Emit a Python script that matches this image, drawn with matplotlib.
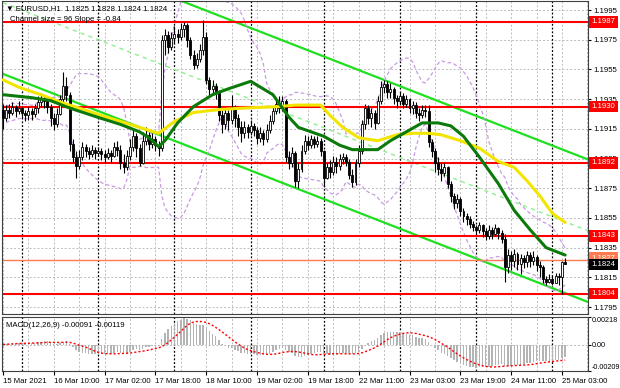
import matplotlib
matplotlib.use("Agg")
import matplotlib.pyplot as plt
import matplotlib.transforms as mtransforms
import numpy as np
import pandas as pd

plt.rcParams['font.family'] = ['Liberation Sans', 'DejaVu Sans']

# hourly EURUSD bars, index 0 = 15 Mar 18:00
first_open = 1.1928
closes = [1.1922, 1.1928, 1.1926, 1.1930, 1.1927, 1.1929, 1.1926, 1.1924, 1.1927, 1.1925,
          1.1929, 1.1933, 1.1936, 1.1934, 1.1930, 1.1922, 1.1918, 1.1925, 1.1935, 1.1944,
          1.1938, 1.1905, 1.1896, 1.1890, 1.1896, 1.1903, 1.1900, 1.1898, 1.1901, 1.1899,
          1.1900, 1.1898, 1.1896, 1.1899, 1.1897, 1.1903, 1.1901, 1.1892, 1.1889, 1.1897,
          1.1903, 1.1910, 1.1902, 1.1892, 1.1907, 1.1911, 1.1905, 1.1908, 1.1904, 1.1902,
          1.1975, 1.1978, 1.1970, 1.1976, 1.1979, 1.1977, 1.1982, 1.1985, 1.1975, 1.1965,
          1.1958, 1.1962, 1.1968, 1.1977, 1.1948, 1.1942, 1.1944, 1.1939, 1.1924, 1.1918,
          1.1926, 1.1921, 1.1929, 1.1922, 1.1916, 1.1912, 1.1916, 1.1913, 1.1917, 1.1914,
          1.1909, 1.1912, 1.1908, 1.1914, 1.1920, 1.1927, 1.1932, 1.1929, 1.1934, 1.1896,
          1.1892, 1.1899, 1.1880, 1.1888, 1.1900, 1.1907, 1.1904, 1.1908, 1.1905, 1.1907,
          1.1900, 1.1882, 1.1889, 1.1886, 1.1893, 1.1890, 1.1895, 1.1896, 1.1893, 1.1884,
          1.1879, 1.1892, 1.1900, 1.1918, 1.1929, 1.1922, 1.1926, 1.1919, 1.1934, 1.1943,
          1.1945, 1.1940, 1.1942, 1.1936, 1.1934, 1.1937, 1.1932, 1.1935, 1.1929, 1.1931,
          1.1926, 1.1924, 1.1928, 1.1927, 1.1906, 1.1900, 1.1892, 1.1888, 1.1885, 1.1889,
          1.1878, 1.1870, 1.1865, 1.1868, 1.1860, 1.1856, 1.1854, 1.1851, 1.1849, 1.1847,
          1.1850, 1.1846, 1.1843, 1.1847, 1.1844, 1.1848, 1.1845, 1.1841, 1.1822, 1.1830,
          1.1826, 1.1831, 1.1824, 1.1828, 1.1825, 1.1830, 1.1826, 1.1829, 1.1823, 1.1822,
          1.1814, 1.1812, 1.1814, 1.1811, 1.1816, 1.1815, 1.1825, 1.1824]
highs = [1.1932, 1.1931, 1.1932, 1.1933, 1.1931, 1.1934, 1.1930, 1.1928, 1.1930, 1.1929,
         1.1932, 1.1937, 1.1939, 1.1938, 1.1936, 1.1932, 1.1926, 1.1929, 1.1938, 1.1953,
         1.1950, 1.1940, 1.1908, 1.1900, 1.1901, 1.1906, 1.1905, 1.1903, 1.1904, 1.1903,
         1.1903, 1.1902, 1.1901, 1.1902, 1.1901, 1.1906, 1.1907, 1.1904, 1.1898, 1.1901,
         1.1908, 1.1914, 1.1912, 1.1905, 1.1913, 1.1916, 1.1913, 1.1912, 1.1910, 1.1907,
         1.1978, 1.1982, 1.1981, 1.1980, 1.1984, 1.1982, 1.1986, 1.1987, 1.1986, 1.1977,
         1.1968, 1.1966, 1.1972, 1.1988, 1.1980, 1.1950, 1.1948, 1.1946, 1.1941, 1.1928,
         1.1930, 1.1928, 1.1938, 1.1931, 1.1925, 1.1920, 1.1920, 1.1918, 1.1921, 1.1919,
         1.1916, 1.1916, 1.1914, 1.1918, 1.1924, 1.1930, 1.1935, 1.1937, 1.1937, 1.1935,
         1.1900, 1.1903, 1.1900, 1.1892, 1.1904, 1.1911, 1.1910, 1.1911, 1.1910, 1.1910,
         1.1909, 1.1901, 1.1892, 1.1894, 1.1897, 1.1896, 1.1898, 1.1899, 1.1898, 1.1895,
         1.1888, 1.1895, 1.1904, 1.1921, 1.1932, 1.1931, 1.1929, 1.1928, 1.1937, 1.1947,
         1.1948, 1.1947, 1.1946, 1.1943, 1.1938, 1.1940, 1.1939, 1.1938, 1.1936, 1.1934,
         1.1933, 1.1929, 1.1931, 1.1931, 1.1931, 1.1908, 1.1902, 1.1896, 1.1892, 1.1892,
         1.1890, 1.1880, 1.1872, 1.1871, 1.1869, 1.1862, 1.1858, 1.1856, 1.1853, 1.1850,
         1.1852, 1.1851, 1.1848, 1.1850, 1.1849, 1.1851, 1.1849, 1.1847, 1.1844, 1.1834,
         1.1833, 1.1834, 1.1832, 1.1831, 1.1830, 1.1833, 1.1832, 1.1833, 1.1830, 1.1826,
         1.1823, 1.1816, 1.1817, 1.1816, 1.1818, 1.1818, 1.1826, 1.1828]
lows = [1.1915, 1.1920, 1.1922, 1.1924, 1.1923, 1.1925, 1.1922, 1.1920, 1.1921, 1.1921,
        1.1923, 1.1926, 1.1930, 1.1929, 1.1926, 1.1917, 1.1914, 1.1916, 1.1924, 1.1933,
        1.1934, 1.1900, 1.1893, 1.1882, 1.1888, 1.1894, 1.1896, 1.1895, 1.1896, 1.1895,
        1.1897, 1.1894, 1.1892, 1.1895, 1.1893, 1.1896, 1.1897, 1.1888, 1.1885, 1.1887,
        1.1894, 1.1900, 1.1896, 1.1890, 1.1891, 1.1904, 1.1901, 1.1902, 1.1900, 1.1897,
        1.1900, 1.1965, 1.1966, 1.1968, 1.1972, 1.1973, 1.1975, 1.1977, 1.1970, 1.1962,
        1.1955, 1.1956, 1.1960, 1.1965, 1.1945, 1.1938, 1.1938, 1.1935, 1.1920, 1.1912,
        1.1915, 1.1914, 1.1918, 1.1916, 1.1910, 1.1906, 1.1909, 1.1909, 1.1911, 1.1910,
        1.1905, 1.1906, 1.1904, 1.1906, 1.1912, 1.1918, 1.1925, 1.1926, 1.1927, 1.1893,
        1.1888, 1.1889, 1.1876, 1.1875, 1.1886, 1.1898, 1.1901, 1.1902, 1.1902, 1.1903,
        1.1897, 1.1876, 1.1881, 1.1882, 1.1884, 1.1885, 1.1887, 1.1891, 1.1890, 1.1881,
        1.1876, 1.1877, 1.1889, 1.1898, 1.1915, 1.1918, 1.1916, 1.1915, 1.1918, 1.1932,
        1.1939, 1.1936, 1.1936, 1.1932, 1.1929, 1.1931, 1.1929, 1.1930, 1.1926, 1.1925,
        1.1922, 1.1920, 1.1922, 1.1923, 1.1903, 1.1896, 1.1886, 1.1884, 1.1880, 1.1883,
        1.1875, 1.1866, 1.1861, 1.1862, 1.1856, 1.1852, 1.1850, 1.1848, 1.1846, 1.1844,
        1.1845, 1.1842, 1.1840, 1.1841, 1.1841, 1.1843, 1.1841, 1.1838, 1.1812, 1.1818,
        1.1820, 1.1822, 1.1820, 1.1817, 1.1821, 1.1822, 1.1822, 1.1823, 1.1819, 1.1815,
        1.1811, 1.1810, 1.1811, 1.1810, 1.1811, 1.1810, 1.1804, 1.1824]

# moving averages (bar index, price)
ma_green_bars = [0, 9, 15, 21, 31, 37, 43, 46, 49, 51, 55, 60, 66, 71, 78, 85, 90, 93, 97, 101,
                 106, 110, 118, 122, 127, 132, 137, 141, 145, 150, 156, 161, 166, 171, 177]
ma_green = [1.1938, 1.1936, 1.1934, 1.1929, 1.1922, 1.1918, 1.1913, 1.1909, 1.1903, 1.1907,
            1.1919, 1.1930, 1.1938, 1.1942, 1.1947, 1.1938, 1.1923, 1.1916, 1.1913, 1.1910,
            1.1904, 1.1901, 1.1901, 1.1907, 1.1913, 1.1919, 1.1919, 1.1917, 1.1910, 1.1896,
            1.1878, 1.1860, 1.1847, 1.1835, 1.1830]
ma_yellow_bars = [0, 5, 12, 18, 24, 31, 37, 43, 49, 54, 60, 68, 76, 87, 92, 100, 103, 107, 112,
                  118, 124, 129, 134, 138, 144, 150, 156, 161, 165, 169, 173, 177]
ma_yellow = [1.1948, 1.1943, 1.1938, 1.1933, 1.1929, 1.1924, 1.1920, 1.1916, 1.1912, 1.1920,
             1.1926, 1.1928, 1.1929, 1.1930, 1.1931, 1.1931, 1.1924, 1.1916, 1.1909, 1.1907,
             1.1911, 1.1912, 1.1912, 1.1911, 1.1907, 1.1902, 1.1893, 1.1889, 1.1880, 1.1870,
             1.1858, 1.1852]

# regression channel: lower line end points, width 96 pips
chan_bars = [0, 185]
chan_lower = [1.1952, 1.17977]
chan_width = 0.0096

levels = [1.1987, 1.1930, 1.1892, 1.1843, 1.1804]
ask_price = 1.1827
bid_price = 1.1824

price_ticks = [1.1795, 1.1815, 1.1835, 1.1855, 1.1875, 1.1895, 1.1915, 1.1935, 1.1955, 1.1975, 1.1995]
macd_top, macd_bottom = 0.00218, -0.00209
time_bars = [0, 16, 32, 48, 64, 80, 96, 112, 128, 144, 160, 176]
time_labels = ['15 Mar 2021', '16 Mar 10:00', '17 Mar 02:00', '17 Mar 18:00', '18 Mar 10:00',
               '19 Mar 02:00', '19 Mar 18:00', '22 Mar 11:00', '23 Mar 03:00', '23 Mar 19:00',
               '24 Mar 11:00', '25 Mar 03:00']
day_bars = [6, 30, 54, 78, 101, 125, 149, 173]

c = pd.Series(closes)
o = np.array([first_open] + closes[:-1])
cl = np.array(closes)
idx = np.arange(len(closes))

# bollinger 20,2
mid = c.rolling(20, min_periods=2).mean()
sd = c.rolling(20, min_periods=2).std(ddof=0)
bb_up = mid + 2 * sd
bb_dn = mid - 2 * sd

# MACD 12,26,9
macd = c.ewm(span=12, adjust=False).mean() - c.ewm(span=26, adjust=False).mean()
signal = macd.rolling(9, min_periods=1).mean()

FS = 5.6
fig = plt.figure(figsize=(6.2, 3.88), dpi=100)
ax = fig.add_axes([2 / 620, 1 - 314 / 388, 586 / 620, 313 / 388])
ax2 = fig.add_axes([2 / 620, 1 - 371 / 388, 586 / 620, 54 / 388])

xlim = (-0.3, 184.2)
for a in (ax, ax2):
    a.set_xlim(*xlim)
    for s in a.spines.values():
        s.set_color('#404040')
        s.set_linewidth(0.8)
    for b in time_bars:
        a.axvline(b, color='#bcbcbc', lw=0.7, ls=(0, (2, 2)), zorder=0)
        a.axvline(b + 8, color='#bcbcbc', lw=0.7, ls=(0, (2, 2)), zorder=0)
    for b in day_bars:
        a.axvline(b, color='black', lw=0.9, ls=(0, (1.5, 1.5)), zorder=0.5)

ax.set_ylim(1.17903, 1.20011)
for p in price_ticks:
    ax.axhline(p, color='#bcbcbc', lw=0.7, ls=(0, (2, 2)), zorder=0)

# channel
chan_upper = [v + chan_width for v in chan_lower]
chan_mid = [v + chan_width / 2 for v in chan_lower]
ax.plot(chan_bars, chan_lower, color='#1fe01f', lw=1.6, zorder=1)
ax.plot(chan_bars, chan_upper, color='#1fe01f', lw=1.6, zorder=1)
ax.plot(chan_bars, chan_mid, color='#8cf08c', lw=1, ls=(0, (3, 3)), zorder=1)

# bollinger
ax.plot(idx, bb_up, color='#c89be0', lw=0.9, ls=(0, (3, 2)), zorder=1)
ax.plot(idx, bb_dn, color='#c89be0', lw=0.9, ls=(0, (3, 2)), zorder=1)

# levels
for lv in levels:
    ax.axhline(lv, color='#ff0000', lw=1.5, zorder=2)
ax.axhline(ask_price, color='#ff7a50', lw=1, zorder=2)

# candles
ax.vlines(idx, lows, highs, color='black', lw=0.8, zorder=3)
up = cl >= o
ax.bar(idx[up], (cl - o)[up], bottom=o[up], width=0.62, color='white', edgecolor='black', lw=0.6, zorder=4)
ax.bar(idx[~up], (o - cl)[~up], bottom=cl[~up], width=0.62, color='black', edgecolor='black', lw=0.6, zorder=4)

# moving averages
ax.plot(ma_yellow_bars, ma_yellow, color='#f2e600', lw=2.2, zorder=5, solid_capstyle='round')
ax.plot(ma_green_bars, ma_green, color='#0b7a0b', lw=2.2, zorder=5, solid_capstyle='round')

ax.yaxis.tick_right()
ax.set_yticks(price_ticks)
ax.set_yticklabels([f'{p:.4f}' for p in price_ticks])
ax.tick_params(axis='y', labelsize=FS, length=2.5, pad=1.5)
ax.set_xticks([])

trans = mtransforms.blended_transform_factory(ax.transAxes, ax.transData)
box = dict(boxstyle='square,pad=0.3', ec='none')
for lv in levels:
    ax.text(1.006, lv, f'{lv:.4f}', transform=trans, color='white', fontsize=FS, va='center',
            ha='left', bbox=dict(box, fc='#ff0000'), clip_on=False, zorder=6)
ax.text(1.006, ask_price + 0.00008, f'{ask_price:.4f}', transform=trans, color='white', fontsize=FS,
        va='center', ha='left', bbox=dict(box, fc='#ff7a50'), clip_on=False, zorder=6)
ax.text(1.006, bid_price - 0.00004, f'{bid_price:.4f}', transform=trans, color='white', fontsize=FS,
        va='center', ha='left', bbox=dict(box, fc='black'), clip_on=False, zorder=7)

ax.text(0.007, 0.986, '\u25bc EURUSD,H1  1.1825 1.1828 1.1824 1.1824', transform=ax.transAxes,
        fontsize=FS, va='top', ha='left', zorder=8)
ax.text(0.014, 0.952, 'Channel size = 96 Slope = -0.84', transform=ax.transAxes,
        fontsize=FS, va='top', ha='left', zorder=8)

# MACD panel, scaled to its min/max like the terminal does
ax2.set_ylim(macd_bottom, macd_top)
ax2.axhline(0, color='#bcbcbc', lw=0.7, ls=(0, (2, 2)), zorder=0)
ax2.bar(idx, macd, width=0.45, color='#b4b4b4', zorder=2)
ax2.plot(idx, signal, color='#ff0000', lw=1, ls=(0, (1.5, 1.5)), zorder=3)
ax2.yaxis.tick_right()
ax2.set_yticks([macd_top, 0.0, macd_bottom])
ax2.set_yticklabels(['0.00218', '0.00', '-0.00209'])
ax2.tick_params(axis='y', labelsize=5.2, length=2, pad=1)
ylabs = ax2.get_yticklabels()
ylabs[0].set_va('top')
ylabs[2].set_va('bottom')
ax2.set_xticks(time_bars)
ax2.set_xticklabels(time_labels, ha='left')
ax2.tick_params(axis='x', labelsize=FS, length=3, pad=2)
ax2.text(0.006, 0.9, 'MACD(12,26,9) -0.00091 -0.00119', transform=ax2.transAxes,
         fontsize=FS, va='top', ha='left')

fig.savefig('out.png', dpi=100)
